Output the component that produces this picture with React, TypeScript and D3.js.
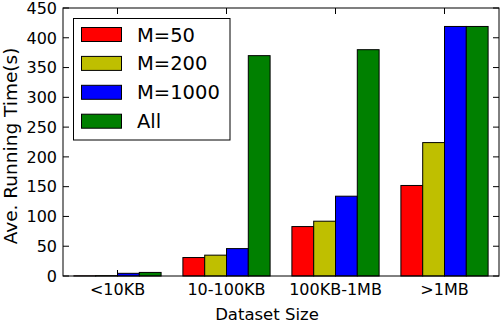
import * as d3 from 'd3';
import React from 'react';

const categories = ['<10KB', '10-100KB', '100KB-1MB', '>1MB'];
const seriesNames = ['M=50', 'M=200', 'M=1000', 'All'];
const seriesColors = ['#ff0000', '#bfbf00', '#0000ff', '#008000'];
const m50 = [0.3, 31, 83, 152];
const m200 = [0.6, 35, 92, 224];
const m1000 = [4.5, 46, 134, 419];
const all = [6, 370, 380, 419];
const yTicks = [0, 50, 100, 150, 200, 250, 300, 350, 400, 450];

const series = [m50, m200, m1000, all];

const W = 500;
const H = 330;
const left = 63;
const right = 499;
const top = 8;
const bottom = 276;
const barWidth = 0.2;
const font = 'DejaVu Sans, sans-serif';

const App = () => {
    const x = d3.scaleLinear().domain([-0.1, 3.9]).range([left, right]);
    const y = d3.scaleLinear().domain([0, 450]).range([bottom, top]);

    return (
        <svg width={W} height={H} style={{ position: 'absolute', left: 0, top: 0, background: '#fff' }}>
            <rect x={0} y={0} width={W} height={H} fill="#fff" />
            {series.map((vals, k) =>
                vals.map((v, i) => (
                    <rect
                        key={k + '-' + i}
                        x={x(i + k * barWidth)}
                        y={y(v)}
                        width={x(barWidth) - x(0)}
                        height={y(0) - y(v)}
                        fill={seriesColors[k]}
                        stroke="#000"
                        strokeWidth={1}
                    />
                ))
            )}
            {/* frame */}
            <rect x={left} y={top} width={right - left} height={bottom - top} fill="none" stroke="#000" strokeWidth={1} />
            {/* y ticks */}
            {yTicks.map(t => (
                <g key={'y' + t}>
                    <line x1={left} x2={left + 6} y1={y(t)} y2={y(t)} stroke="#000" />
                    <line x1={right - 6} x2={right} y1={y(t)} y2={y(t)} stroke="#000" />
                    <text x={left - 6} y={y(t)} dy="0.36em" textAnchor="end" fontFamily={font} fontSize={16} fill="#000">
                        {t}
                    </text>
                </g>
            ))}
            {/* x ticks */}
            {categories.map((c, i) => (
                <g key={c}>
                    <line x1={x(i + 0.4)} x2={x(i + 0.4)} y1={top} y2={top + 6} stroke="#000" />
                    <line x1={x(i + 0.4)} x2={x(i + 0.4)} y1={bottom} y2={bottom - 6} stroke="#000" />
                    <text x={x(i + 0.4)} y={295} textAnchor="middle" fontFamily={font} fontSize={16} fill="#000">
                        {c}
                    </text>
                </g>
            ))}
            <text x={267} y={320} textAnchor="middle" fontFamily={font} fontSize={16.5} fill="#000">
                Dataset Size
            </text>
            <text
                transform={`translate(17, 146) rotate(-90)`}
                textAnchor="middle"
                fontFamily={font}
                fontSize={18.5}
                fill="#000"
            >
                Ave. Running Time(s)
            </text>
            {/* legend */}
            <rect x={73.5} y={18.5} width={156.5} height={121.5} fill="#fff" stroke="#000" strokeWidth={1} />
            {seriesNames.map((name, k) => {
                const cy = 34.5 + k * 28.9;
                return (
                    <g key={name}>
                        <rect x={81.5} y={cy - 7} width={40} height={14} fill={seriesColors[k]} stroke="#000" strokeWidth={1} />
                        <text x={137} y={cy} dy="0.36em" fontFamily={font} fontSize={19.5} fill="#000">
                            {name}
                        </text>
                    </g>
                );
            })}
        </svg>
    );
};

export default App;
